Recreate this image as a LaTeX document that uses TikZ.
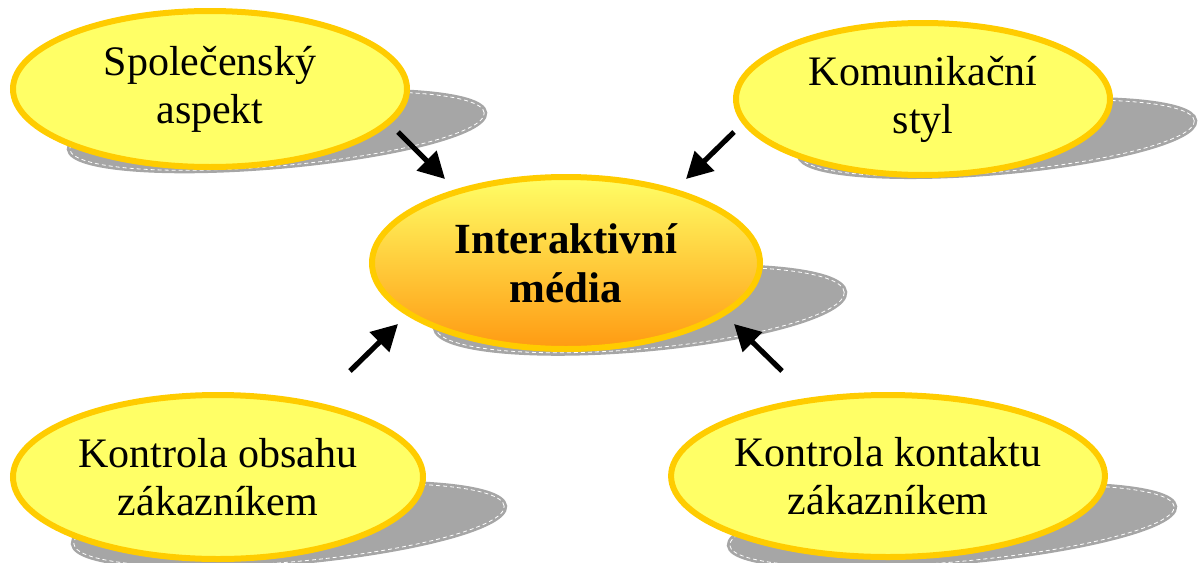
\documentclass[tikz,border=0pt]{standalone}
\usepackage{fontspec}
\setmainfont{Liberation Serif}
\usetikzlibrary{shapes.geometric,arrows.meta,calc,backgrounds}

\definecolor{rimgold}{HTML}{FFCC00}
\definecolor{paleyellow}{HTML}{FFFF66}
\definecolor{hotorange}{HTML}{FF9A12}
\definecolor{shadowgray}{HTML}{A6A6A6}

\tikzset{
  bubble/.style={ellipse, draw=rimgold, line width=3pt, fill=paleyellow,
    inner sep=0pt, align=center, font=\fontsize{21}{24}\selectfont},
  hub/.style={ellipse, draw=rimgold, line width=3pt,
    top color=paleyellow, bottom color=hotorange,
    inner sep=0pt, align=center, font=\bfseries\fontsize{21.5}{24.5}\selectfont},
  dropshadow/.style={ellipse, rotate=5, inner sep=0pt,
    fill=shadowgray, draw=shadowgray, line width=3pt,
    postaction={draw=white, line width=0.4pt, dash pattern=on 2pt off 1.5pt}},
  push/.style={line width=2.6pt, -{Triangle[length=13pt,width=13.5pt]}}
}

\begin{document}
\begin{tikzpicture}[x=0.5pt, y=-0.5pt]
  \useasboundingbox (0,0) rectangle (1202,562);

  % topic bubbles
  \node[bubble, minimum width=197pt, minimum height=78pt] (social) at (210,89)
    {Společenský\\aspekt};
  \node[bubble, minimum width=187pt, minimum height=76pt] (style) at (923,99)
    {Komunikační\\styl};
  \node[hub, minimum width=194pt, minimum height=86pt] (media) at (566,263)
    {Interaktivní\\média};
  \node[bubble, minimum width=205pt, minimum height=82pt] (content) at (218,477)
    {Kontrola obsahu\\zákazníkem};
  \node[bubble, minimum width=212pt, minimum height=81pt] (contact) at (888,476)
    {Kontrola kontaktu\\zákazníkem};

  % flattened perspective shadows behind the bubbles
  \begin{scope}[on background layer]
    \node[dropshadow, minimum width=208pt, minimum height=35pt] (social-sh)
      at ($(social.center)+(67,42)$) {};
    \node[dropshadow, minimum width=198pt, minimum height=34pt] (style-sh)
      at ($(style.center)+(74,39)$) {};
    \node[dropshadow, minimum width=205pt, minimum height=39pt] (media-sh)
      at ($(media.center)+(74,47)$) {};
    \node[dropshadow, minimum width=216pt, minimum height=37pt] (content-sh)
      at ($(content.center)+(71,48)$) {};
    \node[dropshadow, minimum width=223pt, minimum height=36pt] (contact-sh)
      at ($(contact.center)+(64,50)$) {};
  \end{scope}

  % arrow ends between the bubbles and the hub
  \coordinate (social-out)  at (398,132);
  \coordinate (media-nw)    at (445,179);
  \coordinate (style-out)   at (734,132);
  \coordinate (media-ne)    at (686,179);
  \coordinate (content-out) at (350,371);
  \coordinate (media-sw)    at (398,324);
  \coordinate (contact-out) at (782,371);
  \coordinate (media-se)    at (734,324);

  \draw[push] (social-out)  -- (media-nw);
  \draw[push] (style-out)   -- (media-ne);
  \draw[push] (content-out) -- (media-sw);
  \draw[push] (contact-out) -- (media-se);
\end{tikzpicture}
\end{document}
